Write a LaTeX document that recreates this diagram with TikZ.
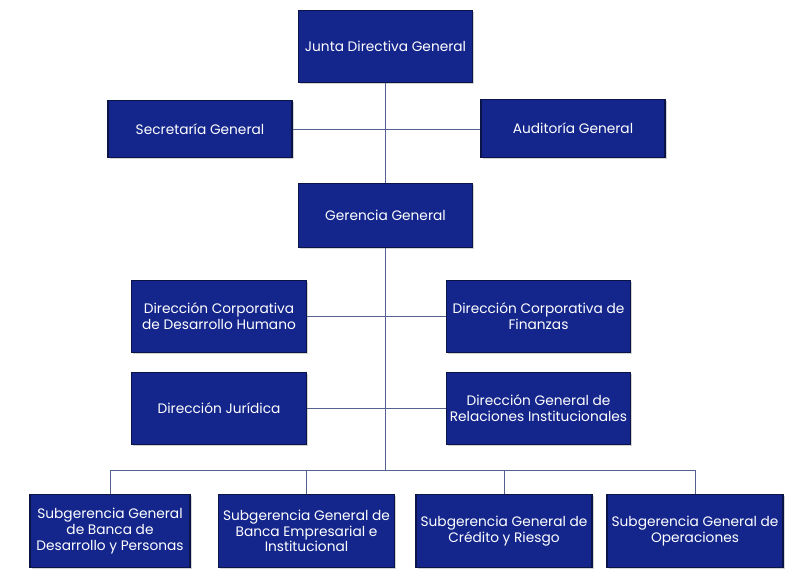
\documentclass[tikz,border=0pt]{standalone}
\usepackage{fontspec}
\setmainfont{Poppins}
\usepackage{xcolor}
\usetikzlibrary{positioning, shadows}
\definecolor{boxblue}{RGB}{20,38,140}
\definecolor{boxedge}{RGB}{10,20,70}
\definecolor{linkgray}{RGB}{85,98,145}
\tikzset{
  unit/.style={draw=boxedge, line width=0.8pt, fill=boxblue, text=white, align=center,
    inner sep=1pt, font=\fontsize{10.3}{11.8}\selectfont,
    drop shadow={shadow xshift=1.2pt, shadow yshift=-1.2pt, opacity=0.35}},
  wide/.style={unit, minimum width=131pt, minimum height=54pt},
  flat/.style={unit, minimum width=138pt, minimum height=43pt},
  sub/.style={unit, minimum width=125pt, minimum height=55pt},
  link/.style={draw=linkgray, line width=0.75pt}
}

\begin{document}
\begin{tikzpicture}[x=0.75pt,y=-0.75pt]
    \useasboundingbox (0,0) rectangle (805,585);
    \node[wide] (junta) at (385.5,46.5) {Junta Directiva General};
    \node[flat] (secre) at (200,129) {Secretaría General};
    \node[flat] (audit) at (573,128.5) {Auditoría General};
    \node[wide, minimum height=48pt] (geren) at (385.5,215.5) {Gerencia General};
    \node[wide] (dhum) at (219,316.5) {Dirección Corporativa\\de Desarrollo Humano};
    \node[wide, minimum width=138pt] (finan) at (538.5,316.5) {Dirección Corporativa de\\Finanzas};
    \node[wide] (jurid) at (219,408.5) {Dirección Jurídica};
    \node[wide, minimum width=138pt] (relin) at (538.5,408.5) {Dirección General de\\Relaciones Institucionales};
    \node[sub, minimum width=120pt] (subA) at (110,531) {Subgerencia General\\de Banca de\\Desarrollo y Personas};
    \node[sub, minimum width=132pt] (subB) at (306.5,531) {Subgerencia General de\\Banca Empresarial e\\Institucional};
    \node[sub, minimum width=132pt] (subC) at (504,531) {Subgerencia General de\\Crédito y Riesgo};
    \node[sub, minimum width=132pt] (subD) at (695,531) {Subgerencia General de\\Operaciones};
    \coordinate (bus) at (385.5,470);
    \draw[link] (junta.south) -- (geren.north);
    \draw[link] (secre.east) -- (secre.east -| audit.west);
    \draw[link] (geren.south) -- (bus);
    \draw[link] (dhum.east) -- (dhum.east -| finan.west);
    \draw[link] (jurid.east) -- (jurid.east -| relin.west);
    \draw[link] (subA.north |- bus) -- (subD.north |- bus);
    \foreach \s in {subA, subB, subC, subD}
      \draw[link] (\s.north) -- (\s.north |- bus);
\end{tikzpicture}
\end{document}
